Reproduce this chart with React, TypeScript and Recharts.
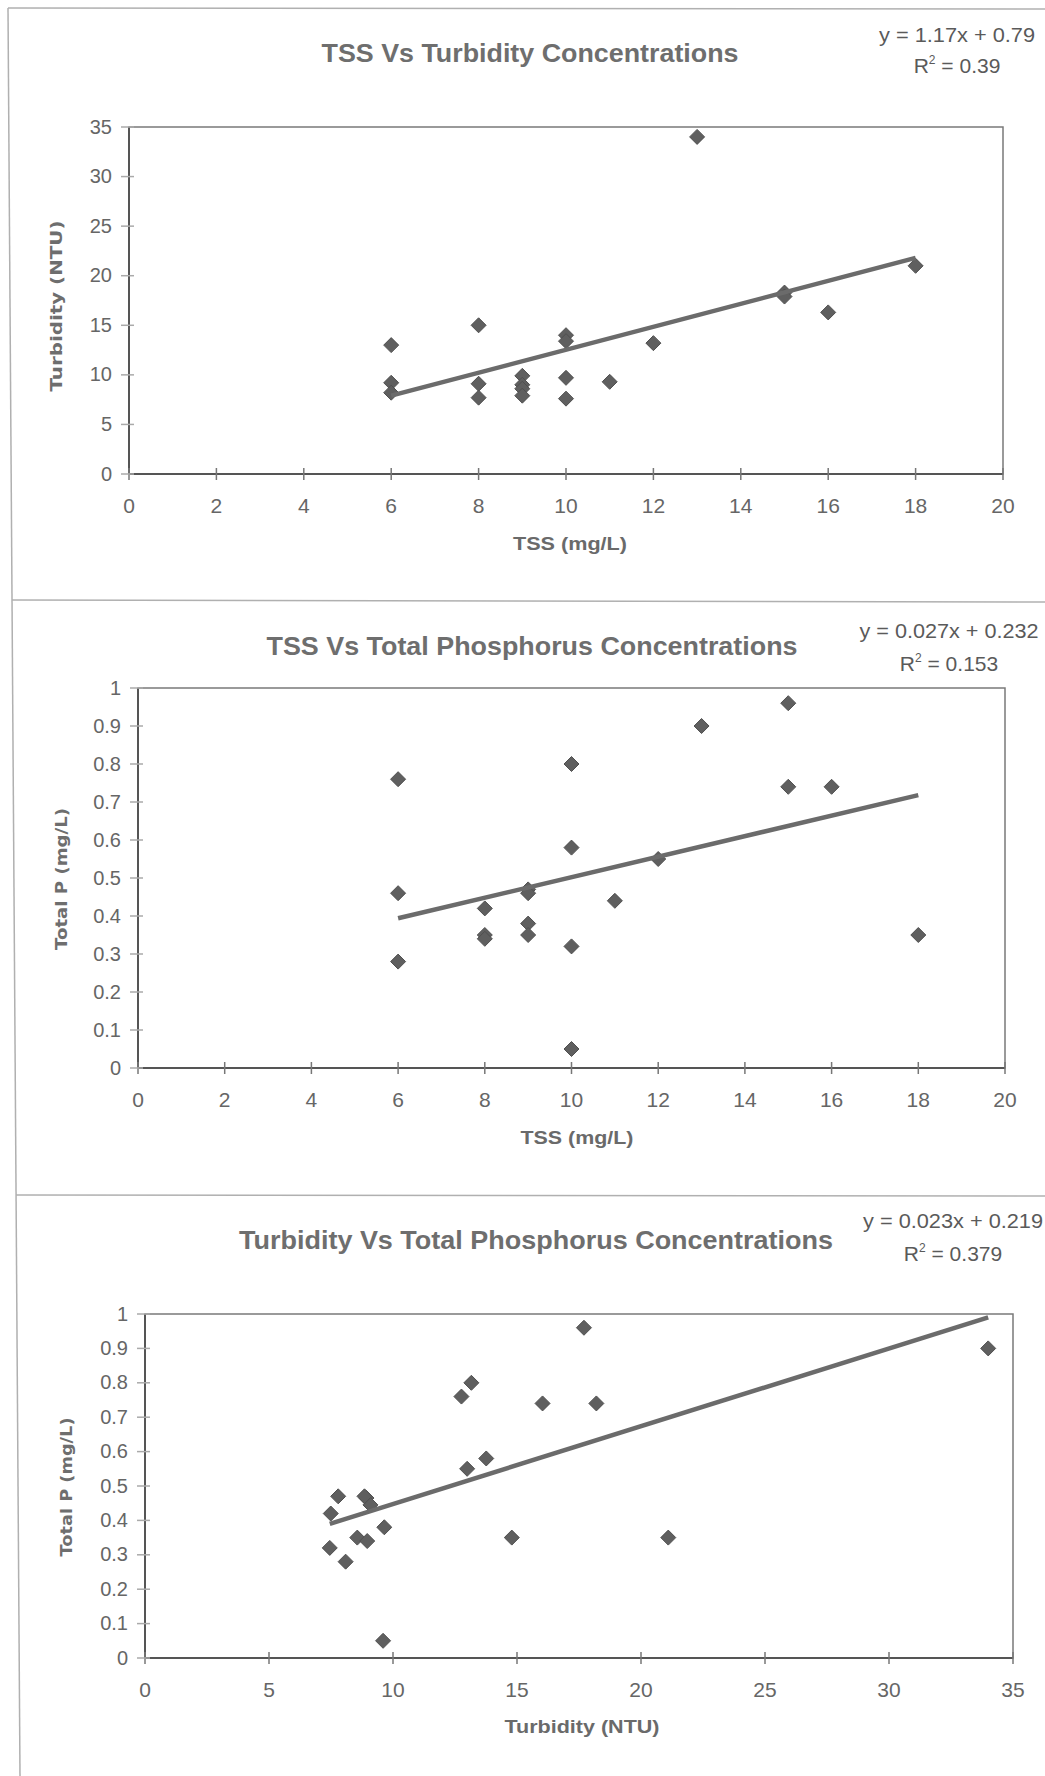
import React from 'react';
import { ScatterChart, Scatter, XAxis, YAxis, ReferenceArea } from 'recharts';

// ---------- data ----------
const tssValues = [6, 6, 6, 8, 8, 8, 9, 9, 9, 9, 10, 10, 10, 10, 11, 12, 13, 15, 15, 16, 18];
const turbidityVsTss = [13, 9.2, 8.2, 15, 9.1, 7.7, 9.9, 9.0, 8.6, 7.9, 14, 13.4, 9.7, 7.6, 9.3, 13.2, 34, 18.3, 17.9, 16.3, 21];
const phosphorusVsTss = [0.76, 0.46, 0.28, 0.42, 0.35, 0.34, 0.47, 0.46, 0.38, 0.35, 0.8, 0.58, 0.32, 0.05, 0.44, 0.55, 0.9, 0.96, 0.74, 0.74, 0.35];
const turbidityValues = [7.49, 7.79, 8.93, 9.09, 8.85, 7.45, 8.56, 8.96, 8.09, 9.65, 9.6, 12.76, 13.16, 12.99, 13.76, 14.79, 16.03, 17.7, 18.2, 21.1, 34];
const phosphorusVsTurbidity = [0.42, 0.47, 0.465, 0.445, 0.47, 0.32, 0.35, 0.34, 0.28, 0.38, 0.05, 0.76, 0.8, 0.55, 0.58, 0.35, 0.74, 0.96, 0.74, 0.35, 0.9];

const trend1X = [6, 18];
const trend1Y = [7.9, 21.8];
const trend2X = [6, 18];
const trend2Y = [0.394, 0.718];
const trend3X = [7.45, 34];
const trend3Y = [0.39, 0.99];

const tssTicks = [0, 2, 4, 6, 8, 10, 12, 14, 16, 18, 20];
const turbidityTicks = [0, 5, 10, 15, 20, 25, 30, 35];
const phosphorusTicks = [0, 0.1, 0.2, 0.3, 0.4, 0.5, 0.6, 0.7, 0.8, 0.9, 1];

const titles = [
  'TSS Vs Turbidity Concentrations',
  'TSS Vs Total Phosphorus Concentrations',
  'Turbidity Vs Total Phosphorus Concentrations',
];
const equations = ['y = 1.17x + 0.79', 'y = 0.027x + 0.232', 'y = 0.023x + 0.219'];
const rSquared = ['0.39', '0.153', '0.379'];
const xTitles = ['TSS (mg/L)', 'TSS (mg/L)', 'Turbidity (NTU)'];
const yTitles = ['Turbidity (NTU)', 'Total P (mg/L)', 'Total P (mg/L)'];

const zip = (xs: number[], ys: number[]) => xs.map((x, i) => ({ x, y: ys[i] }));

const FONT = '"Liberation Sans", Arial, sans-serif';
const TICK_COLOR = '#666';

const Diamond = (props: any) => {
  const { cx, cy } = props;
  if (cx == null || cy == null) return <g />;
  const r = 7.5;
  return (
    <polygon
      points={`${cx},${cy - r} ${cx + r},${cy} ${cx},${cy + r} ${cx - r},${cy}`}
      fill="#5f5f5f"
      stroke="#505050"
      strokeWidth={1}
    />
  );
};

const NoShape = () => <g />;

const XTick = (props: any) => {
  const { x, y, payload } = props;
  return (
    <g>
      <line x1={x} x2={x} y1={y - 6} y2={y + 6} stroke="#777" strokeWidth={1.5} />
      <text x={x} y={y + 39} textAnchor="middle" fontSize={21} fill={TICK_COLOR} fontFamily={FONT}>
        {String(payload.value)}
      </text>
    </g>
  );
};

const YTick = (props: any) => {
  const { x, y, payload } = props;
  return (
    <g>
      <line x1={x - 8} x2={x + 5} y1={y} y2={y} stroke="#aaa" strokeWidth={1.5} />
      <text x={x - 17} y={y} dy="0.33em" textAnchor="end" fontSize={20} fill={TICK_COLOR} fontFamily={FONT}>
        {String(payload.value)}
      </text>
    </g>
  );
};

type PlotProps = {
  top: number;
  height: number;
  margin: { top: number; right: number; bottom: number; left: number };
  xDomain: [number, number];
  xTicks: number[];
  yDomain: [number, number];
  yTicks: number[];
  points: { x: number; y: number }[];
  trend: { x: number; y: number }[];
};

function Plot({ top, height, margin, xDomain, xTicks, yDomain, yTicks, points, trend }: PlotProps) {
  return (
    <div style={{ position: 'absolute', left: 0, top, width: 1045, height }}>
      <ScatterChart width={1045} height={height} margin={margin}>
        <ReferenceArea
          x1={xDomain[0]}
          x2={xDomain[1]}
          y1={yDomain[0]}
          y2={yDomain[1]}
          fill="none"
          stroke="#7a7a7a"
          strokeWidth={1.5}
          ifOverflow="visible"
        />
        <XAxis
          type="number"
          dataKey="x"
          domain={xDomain}
          ticks={xTicks}
          interval={0}
          tickSize={0}
          tickMargin={0}
          tickLine={false}
          tick={<XTick />}
          axisLine={{ stroke: '#555', strokeWidth: 2 }}
          height={40}
          allowDataOverflow
        />
        <YAxis
          type="number"
          dataKey="y"
          domain={yDomain}
          ticks={yTicks}
          interval={0}
          tickSize={0}
          tickMargin={0}
          tickLine={false}
          tick={<YTick />}
          axisLine={{ stroke: '#555', strokeWidth: 2 }}
          width={50}
          allowDataOverflow
        />
        <Scatter data={points} shape={Diamond} isAnimationActive={false} />
        <Scatter
          data={trend}
          line={{ stroke: '#6b6b6b', strokeWidth: 4.5 }}
          shape={NoShape}
          isAnimationActive={false}
        />
      </ScatterChart>
    </div>
  );
}

const Equation = ({ cx, y1, y2, eq, r2, eqLen }: { cx: number; y1: number; y2: number; eq: string; r2: string; eqLen: number }) => (
  <g fill="#5a5a5a" fontFamily={FONT} fontSize={21}>
    <text x={cx} y={y1} textAnchor="middle" textLength={eqLen} lengthAdjust="spacingAndGlyphs">
      {eq}
    </text>
    <text x={cx} y={y2} textAnchor="middle">
      R<tspan dy={-9} fontSize={12}>2</tspan>
      <tspan dy={9}>{' = ' + r2}</tspan>
    </text>
  </g>
);

const Title = ({ cx, y, text, len }: { cx: number; y: number; text: string; len: number }) => (
  <text
    x={cx}
    y={y}
    textAnchor="middle"
    fontFamily={FONT}
    fontWeight="bold"
    fontSize={26}
    fill="#6e6e6e"
    textLength={len}
    lengthAdjust="spacingAndGlyphs"
  >
    {text}
  </text>
);

const XTitle = ({ cx, y, text, len }: { cx: number; y: number; text: string; len: number }) => (
  <text
    x={cx}
    y={y}
    textAnchor="middle"
    fontFamily={FONT}
    fontWeight="bold"
    fontSize={19}
    fill="#6a6a6a"
    textLength={len}
    lengthAdjust="spacingAndGlyphs"
  >
    {text}
  </text>
);

const YTitle = ({ x, cy, text, len }: { x: number; cy: number; text: string; len: number }) => (
  <text
    x={x}
    y={cy}
    transform={`rotate(-90, ${x}, ${cy})`}
    textAnchor="middle"
    fontFamily='"DejaVu Sans", Verdana, sans-serif'
    fontWeight="bold"
    fontSize={15}
    fill="#6e6e6e"
    textLength={len}
    lengthAdjust="spacingAndGlyphs"
  >
    {text}
  </text>
);

export default function App() {
  return (
    <div style={{ position: 'absolute', left: 0, top: 0, width: 1045, height: 1776, background: '#fff', overflow: 'hidden' }}>
      <Plot
        top={0}
        height={600}
        margin={{ top: 127, right: 42, bottom: 86, left: 79 }}
        xDomain={[0, 20]}
        xTicks={tssTicks}
        yDomain={[0, 35]}
        yTicks={turbidityTicks}
        points={zip(tssValues, turbidityVsTss)}
        trend={zip(trend1X, trend1Y)}
      />
      <Plot
        top={600}
        height={595}
        margin={{ top: 88, right: 40, bottom: 87, left: 88 }}
        xDomain={[0, 20]}
        xTicks={tssTicks}
        yDomain={[0, 1]}
        yTicks={phosphorusTicks}
        points={zip(tssValues, phosphorusVsTss)}
        trend={zip(trend2X, trend2Y)}
      />
      <Plot
        top={1195}
        height={581}
        margin={{ top: 119, right: 32, bottom: 78, left: 95 }}
        xDomain={[0, 35]}
        xTicks={turbidityTicks}
        yDomain={[0, 1]}
        yTicks={phosphorusTicks}
        points={zip(turbidityValues, phosphorusVsTurbidity)}
        trend={zip(trend3X, trend3Y)}
      />
      <svg
        width={1045}
        height={1776}
        style={{ position: 'absolute', left: 0, top: 0, pointerEvents: 'none' }}
      >
        {/* page frame */}
        <g stroke="#b0b0b0" strokeWidth={1.5} fill="none">
          <line x1={8} y1={8} x2={1045} y2={9} />
          <line x1={8} y1={8} x2={20} y2={1776} />
          <line x1={12} y1={600} x2={1045} y2={602} />
          <line x1={16} y1={1195} x2={1045} y2={1196} />
        </g>

        <Title cx={530} y={62} text={titles[0]} len={417} />
        <Title cx={532} y={655} text={titles[1]} len={531} />
        <Title cx={536} y={1249} text={titles[2]} len={594} />

        <Equation cx={957} y1={42} y2={73} eq={equations[0]} r2={rSquared[0]} eqLen={156} />
        <Equation cx={949} y1={638} y2={671} eq={equations[1]} r2={rSquared[1]} eqLen={179} />
        <Equation cx={953} y1={1228} y2={1261} eq={equations[2]} r2={rSquared[2]} eqLen={180} />

        <XTitle cx={570} y={550} text={xTitles[0]} len={114} />
        <XTitle cx={577} y={1144} text={xTitles[1]} len={113} />
        <XTitle cx={582} y={1733} text={xTitles[2]} len={155} />

        <YTitle x={62} cy={306} text={yTitles[0]} len={171} />
        <YTitle x={67} cy={879} text={yTitles[1]} len={142} />
        <YTitle x={72} cy={1487} text={yTitles[2]} len={139} />
      </svg>
    </div>
  );
}
